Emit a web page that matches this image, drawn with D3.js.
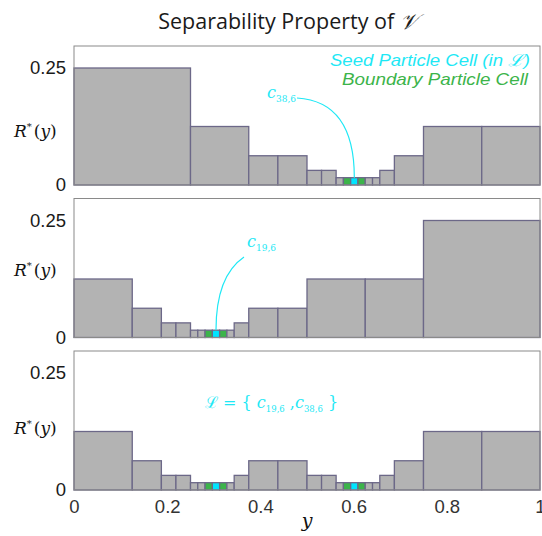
<!DOCTYPE html>
<html><head><meta charset="utf-8">
<script src="https://cdn.jsdelivr.net/npm/d3@7"></script>
<style>body{margin:0;background:#fff}svg{display:block}</style>
</head><body>
<script>
// ---- data ----
const panel1Edges = [0, .25, .375, .4375, .5, .53125, .5625, .578125, .59375, .609375, .625, .640625, .65625, .6875, .75, .875, 1];
const panel1R     = [.25, .125, .0625, .0625, .03125, .03125, .015625, .015625, .015625, .015625, .015625, .015625, .03125, .0625, .125, .125];
const panel1Type  = ["", "", "", "", "", "", "", "b", "s", "b", "", "", "", "", "", ""];

const panel2Edges = [0, .125, .1875, .21875, .25, .265625, .28125, .296875, .3125, .328125, .34375, .375, .4375, .5, .625, .75, 1];
const panel2R     = [.125, .0625, .03125, .03125, .015625, .015625, .015625, .015625, .015625, .015625, .03125, .0625, .0625, .125, .125, .25];
const panel2Type  = ["", "", "", "", "", "", "b", "s", "b", "", "", "", "", "", "", ""];

const panel3Edges = [0, .125, .1875, .21875, .25, .265625, .28125, .296875, .3125, .328125, .34375, .375, .4375, .5, .53125, .5625, .578125, .59375, .609375, .625, .640625, .65625, .6875, .75, .875, 1];
const panel3R     = [.125, .0625, .03125, .03125, .015625, .015625, .015625, .015625, .015625, .015625, .03125, .0625, .0625, .03125, .03125, .015625, .015625, .015625, .015625, .015625, .015625, .03125, .0625, .125, .125];
const panel3Type  = ["", "", "", "", "", "", "b", "s", "b", "", "", "", "", "", "", "", "b", "s", "b", "", "", "", "", "", ""];

const xTicks = [0, 0.2, 0.4, 0.6, 0.8, 1];
const yTicks = [0, 0.25];
const titleText = "Separability Property of ";
const legendSeed = "Seed Particle Cell (in ";
const legendBoundary = "Boundary Particle Cell";

// ---- layout ----
const W = 542, H = 536;
const svg = d3.select("body").append("svg").attr("width", W).attr("height", H);
const left = 74, right = 540;
const panelTops = [46, 198.5, 351];
const panelH = 139;
const x = d3.scaleLinear().domain([0, 1]).range([left, right]);
const colors = {"": "#b3b3b3", "b": "#3cb44a", "s": "#00e5ff"};
const strokeC = "#6c6888";
const cyan = "#1ee8f5";

const panels = [
  {edges: panel1Edges, r: panel1R, type: panel1Type},
  {edges: panel2Edges, r: panel2R, type: panel2Type},
  {edges: panel3Edges, r: panel3R, type: panel3Type}
];

const ys = [];
panels.forEach((p, i) => {
  const top = panelTops[i];
  const y = d3.scaleLinear().domain([0, 0.297]).range([top + panelH, top]);
  ys.push(y);
  const g = svg.append("g");
  const cells = p.r.map((r, k) => ({x0: p.edges[k], x1: p.edges[k + 1], r, t: p.type[k]}));
  g.selectAll("rect.cell").data(cells).join("rect").attr("class", "cell")
    .attr("x", d => x(d.x0)).attr("width", d => x(d.x1) - x(d.x0))
    .attr("y", d => y(d.r)).attr("height", d => y(0) - y(d.r))
    .attr("fill", d => colors[d.t]).attr("stroke", strokeC).attr("stroke-width", 1.3);
  // frame
  g.append("rect").attr("x", left).attr("y", top).attr("width", right - left).attr("height", panelH)
    .attr("fill", "none").attr("stroke", "#8a8a8a").attr("stroke-width", 1);
  // y axis labels
  const ya = d3.axisLeft(y).tickValues(yTicks).tickSize(0).tickPadding(8)
    .tickFormat(d => d === 0 ? "0" : d3.format(".2f")(d));
  const ag = g.append("g").attr("transform", `translate(${left},0)`).call(ya);
  ag.select(".domain").remove();
  ag.selectAll("text").attr("font-family", "Liberation Sans, Arial, sans-serif").attr("font-size", 18.5).attr("fill", "#1a1a1a");
  // R*(y) label
  const ly = [131, 270, 428][i];
  const t = g.append("text").attr("x", 14).attr("y", ly + 6)
    .attr("font-family", "DejaVu Serif, serif").attr("font-size", 17).attr("fill", "#111");
  t.append("tspan").attr("font-style", "italic").text("R");
  t.append("tspan").attr("font-size", 10).attr("dy", -7).text("*");
  t.append("tspan").attr("dy", 7).attr("dx", 2).text("(");
  t.append("tspan").attr("font-style", "italic").text("y");
  t.append("tspan").text(")");
});

// x axis
const xa = d3.axisBottom(x).tickValues(xTicks).tickSize(0).tickPadding(10).tickFormat(d => d3.format("")(d));
const xg = svg.append("g").attr("transform", `translate(0,${panelTops[2] + panelH})`).call(xa);
xg.select(".domain").remove();
xg.selectAll("text").attr("font-family", "Liberation Sans, Arial, sans-serif").attr("font-size", 18.5).attr("fill", "#333");
svg.append("text").attr("x", x(0.5)).attr("y", 527).attr("text-anchor", "middle")
  .attr("font-family", "DejaVu Serif, serif").attr("font-style", "italic").attr("font-size", 19).attr("fill", "#111").text("y");

// title
const tt = svg.append("text").attr("x", 288).attr("y", 29).attr("text-anchor", "middle")
  .attr("font-family", "Open Sans, sans-serif").attr("font-size", 21.5).attr("fill", "#1a1a1a");
tt.append("tspan").text(titleText);
tt.append("tspan").attr("font-family", "DejaVu Serif, serif").attr("font-style", "italic").text("\u{1D4B1}");

// legend
const lg1 = svg.append("text").attr("x", 530).attr("y", 66).attr("text-anchor", "end")
  .attr("font-family", "Liberation Sans, Arial, sans-serif").attr("font-style", "italic").attr("font-size", 16.5).attr("fill", cyan)
  .attr("textLength", 200).attr("lengthAdjust", "spacingAndGlyphs");
lg1.append("tspan").text(legendSeed);
lg1.append("tspan").attr("font-family", "DejaVu Serif, serif").text("\u2112");
lg1.append("tspan").text(")");
svg.append("text").attr("x", 528).attr("y", 85).attr("text-anchor", "end")
  .attr("font-family", "Liberation Sans, Arial, sans-serif").attr("font-style", "italic").attr("font-size", 16.5).attr("fill", "#3cb44a")
  .attr("textLength", 186).attr("lengthAdjust", "spacingAndGlyphs")
  .text(legendBoundary);

// cell label helper
function cellLabel(xp, yp, idx) {
  const t = svg.append("text").attr("x", xp).attr("y", yp).attr("fill", cyan)
    .attr("font-family", "DejaVu Serif, serif");
  t.append("tspan").attr("font-style", "italic").attr("font-size", 16).text("c");
  t.append("tspan").attr("font-size", 9).attr("dy", 4).text(idx);
  return t;
}
// panel 1 annotation
const y1 = ys[0], y2 = ys[1];
cellLabel(267, 98, "38,6");
const s1x = x((panel1Edges[8] + panel1Edges[9]) / 2);
svg.append("path").attr("fill", "none").attr("stroke", cyan).attr("stroke-width", 1.2)
  .attr("d", `M297,98 C330,100 ${s1x},120 ${s1x},${y1(panel1R[8])}`);
// panel 2 annotation
cellLabel(247, 247, "19,6");
const s2x = x((panel2Edges[7] + panel2Edges[8]) / 2);
svg.append("path").attr("fill", "none").attr("stroke", cyan).attr("stroke-width", 1.2)
  .attr("d", `M244,257 C225,270 ${s2x},295 ${s2x},${y2(panel2R[7])}`);

// panel 3 set text
const st = svg.append("text").attr("x", 205).attr("y", 408).attr("fill", cyan)
  .attr("font-family", "DejaVu Serif, serif").attr("font-size", 16);
st.append("tspan").text("\u2112 = { ");
st.append("tspan").attr("font-style", "italic").text("c");
st.append("tspan").attr("font-size", 8.5).attr("dy", 4).text("19,6");
st.append("tspan").attr("dy", -4).text(" ,");
st.append("tspan").attr("font-style", "italic").text("c");
st.append("tspan").attr("font-size", 8.5).attr("dy", 4).text("38,6");
st.append("tspan").attr("dy", -4).text(" }");
</script>
</body></html>
